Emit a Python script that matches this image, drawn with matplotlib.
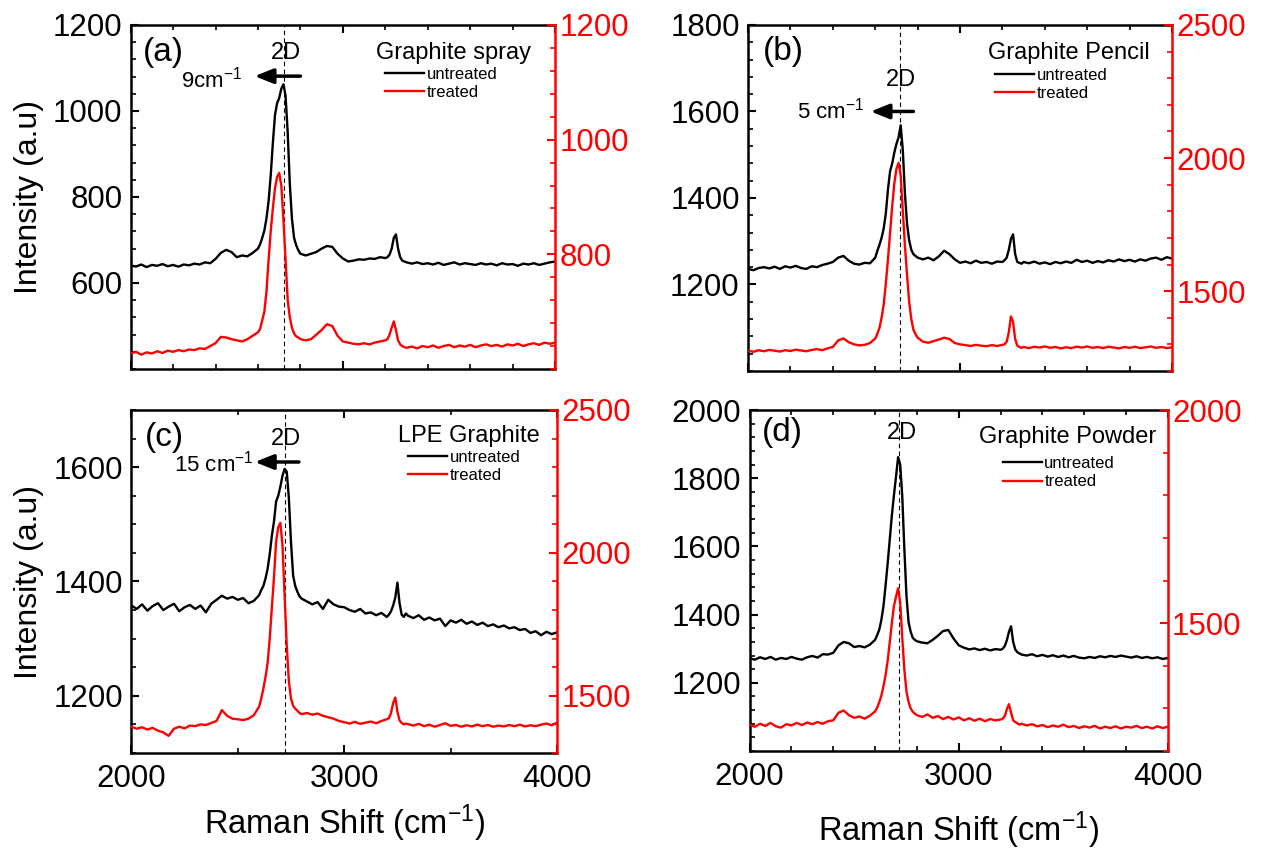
import matplotlib
matplotlib.use('Agg')
import matplotlib.pyplot as plt
from matplotlib.ticker import MultipleLocator

plt.rcParams['font.family'] = ['Liberation Sans', 'DejaVu Sans']
plt.rcParams['mathtext.fontset'] = 'custom'
plt.rcParams['mathtext.rm'] = 'Liberation Sans'
plt.rcParams['mathtext.default'] = 'regular'

# Raman shift sampling points (cm-1), shared by all spectra
shift = [2000, 2025, 2050, 2075, 2100, 2125, 2150, 2175, 2200, 2225, 2250, 2275,
         2300, 2325, 2350, 2375, 2400, 2425, 2450, 2475, 2500, 2525, 2550, 2575,
         2600, 2610, 2620, 2630, 2640, 2650, 2660, 2670, 2680, 2690, 2700, 2710,
         2720, 2730, 2740, 2750, 2760, 2770, 2780, 2790,
         2800, 2825, 2850, 2875, 2900, 2925, 2950, 2975, 3000, 3025, 3050, 3075,
         3100, 3125, 3150, 3175,
         3200, 3210, 3220, 3230, 3240, 3250, 3260, 3270, 3280, 3290,
         3300, 3325, 3350, 3375, 3400, 3425, 3450, 3475, 3500, 3525, 3550, 3575,
         3600, 3625, 3650, 3675, 3700, 3725, 3750, 3775, 3800, 3825, 3850, 3875,
         3900, 3925, 3950, 3975, 4000]

# (a) Graphite spray
spray_untreated = [641, 638, 643, 637, 642, 640, 644, 639, 642, 638, 643, 641, 645, 643, 648, 646, 656, 670, 677, 672, 660, 664, 662, 670,
                   680, 690, 705, 722, 750, 790, 850, 925, 990, 1018, 1030, 1052, 1062, 1035, 950, 830, 750, 705, 688, 676,
                   668, 664, 668, 672, 680, 686, 684, 668, 657, 650, 652, 655, 654, 657, 656, 660,
                   658, 660, 666, 680, 705, 713, 680, 660, 652, 650,
                   648, 645, 648, 644, 646, 643, 647, 642, 645, 648, 643, 646, 644, 642, 646, 643, 645, 641, 646, 643, 644, 640, 645, 643, 646, 642, 645, 648, 650]
spray_treated = [627, 630, 625, 629, 627, 631, 628, 632, 630, 633, 631, 634, 633, 636, 635, 640, 645, 656, 655, 652, 650, 648, 652, 658,
                 664, 670, 685, 700, 735, 790, 840, 880, 915, 935, 942, 920, 860, 790, 720, 690, 672, 662, 657, 655,
                 652, 650, 652, 660, 668, 678, 675, 658, 648, 646, 644, 643, 645, 643, 646, 648,
                 650, 652, 660, 672, 683, 668, 650, 643, 640, 638,
                 637, 639, 636, 640, 638, 641, 637, 640, 642, 638, 641, 639, 642, 638, 641, 643, 640, 642, 639, 643, 641, 644, 640, 643, 645, 642, 646, 644, 646]

# (b) Graphite pencil
pencil_untreated = [1236, 1233, 1238, 1240, 1237, 1241, 1236, 1242, 1239, 1243, 1238, 1236, 1242, 1240, 1245, 1248, 1252, 1262, 1266, 1255, 1248, 1246, 1250, 1249,
                    1262, 1278, 1292, 1308, 1330, 1365, 1420, 1462, 1480, 1505, 1525, 1540, 1568, 1510, 1410, 1340, 1302, 1280, 1270, 1266,
                    1262, 1258, 1262, 1256, 1265, 1278, 1270, 1258, 1250, 1253, 1249, 1255, 1250, 1252, 1248, 1253,
                    1252, 1256, 1262, 1280, 1305, 1316, 1270, 1252, 1250, 1248,
                    1252, 1249, 1253, 1248, 1251, 1247, 1252, 1249, 1253, 1250, 1257, 1252, 1255, 1250, 1254, 1251, 1256, 1253, 1258, 1254, 1257, 1253, 1258, 1255, 1260, 1262, 1257, 1263, 1260]
pencil_treated = [1276, 1272, 1278, 1274, 1279, 1276, 1273, 1278, 1275, 1280, 1277, 1274, 1279, 1282, 1278, 1285, 1290, 1315, 1322, 1308, 1300, 1296, 1298, 1305,
                  1322, 1340, 1362, 1400, 1450, 1530, 1620, 1720, 1820, 1905, 1960, 1982, 1935, 1800, 1670, 1560, 1460, 1395, 1355, 1338,
                  1325, 1310, 1306, 1312, 1318, 1325, 1320, 1305, 1300, 1297, 1294, 1298, 1295, 1293, 1297, 1294,
                  1298, 1300, 1310, 1345, 1405, 1385, 1320, 1295, 1290, 1287,
                  1290, 1286, 1291, 1288, 1292, 1287, 1290, 1285, 1289, 1286, 1291, 1288, 1292, 1287, 1290, 1286, 1291, 1288, 1285, 1290, 1287, 1291, 1286, 1289, 1292, 1287, 1290, 1286, 1289]

# (c) LPE graphite
lpe_untreated = [1358, 1352, 1360, 1349, 1357, 1362, 1350, 1356, 1361, 1348, 1355, 1359, 1352, 1358, 1346, 1361, 1368, 1375, 1370, 1373, 1368, 1371, 1362, 1366,
                 1376, 1385, 1392, 1405, 1422, 1448, 1480, 1505, 1540, 1550, 1566, 1585, 1597, 1592, 1545, 1468, 1410, 1392, 1382, 1374,
                 1370, 1365, 1360, 1364, 1352, 1368, 1360, 1356, 1355, 1350, 1347, 1352, 1344, 1346, 1341, 1345,
                 1338, 1342, 1348, 1358, 1372, 1398, 1362, 1342, 1338, 1344,
                 1340, 1336, 1341, 1333, 1337, 1332, 1335, 1322, 1332, 1328, 1333, 1326, 1330, 1324, 1328, 1322, 1325, 1320, 1323, 1318, 1320, 1315, 1317, 1310, 1313, 1306, 1312, 1308, 1311]
lpe_treated = [1392, 1385, 1390, 1382, 1388, 1378, 1372, 1360, 1385, 1392, 1386, 1396, 1394, 1400, 1398, 1405, 1412, 1450, 1430, 1420, 1418, 1415, 1420, 1432,
               1462, 1490, 1525, 1565, 1615, 1700, 1810, 1915, 2040, 2090, 2105, 2025, 1850, 1675, 1550, 1490, 1465, 1455, 1448, 1440,
               1436, 1440, 1434, 1438, 1430, 1425, 1420, 1412, 1408, 1403, 1409, 1402, 1406, 1410, 1404, 1412,
               1418, 1422, 1440, 1475, 1494, 1445, 1414, 1405, 1400, 1403,
               1401, 1396, 1402, 1394, 1399, 1392, 1398, 1404, 1395, 1398, 1392, 1397, 1393, 1399, 1394, 1398, 1392, 1396, 1393, 1398, 1394, 1399, 1393, 1397, 1394, 1399, 1403, 1397, 1406]

# (d) Graphite powder
powder_untreated = [1272, 1268, 1275, 1270, 1276, 1268, 1273, 1270, 1276, 1271, 1268, 1275, 1279, 1274, 1284, 1283, 1288, 1310, 1320, 1316, 1305, 1308, 1304, 1312,
                    1326, 1340, 1356, 1385, 1425, 1485, 1550, 1620, 1690, 1750, 1805, 1862, 1840, 1745, 1590, 1455, 1378, 1350, 1332, 1326,
                    1322, 1318, 1316, 1326, 1338, 1352, 1355, 1330, 1310, 1303, 1298, 1301, 1296, 1300, 1295, 1299,
                    1297, 1300, 1308, 1325, 1350, 1366, 1320, 1298, 1290, 1286,
                    1283, 1280, 1284, 1278, 1282, 1277, 1281, 1276, 1280, 1275, 1279, 1274, 1272, 1276, 1273, 1278, 1275, 1279, 1276, 1280, 1277, 1274, 1278, 1273, 1276, 1272, 1275, 1270, 1273]
powder_treated = [1262, 1257, 1264, 1259, 1266, 1258, 1255, 1263, 1260, 1266, 1261, 1267, 1263, 1268, 1264, 1270, 1272, 1290, 1295, 1284, 1278, 1281, 1276, 1283,
                  1293, 1302, 1315, 1330, 1352, 1378, 1412, 1455, 1500, 1540, 1562, 1582, 1548, 1465, 1390, 1340, 1315, 1300, 1292, 1288,
                  1284, 1280, 1286, 1278, 1282, 1275, 1280, 1274, 1279, 1272, 1277, 1271, 1276, 1270, 1275, 1272,
                  1274, 1276, 1282, 1298, 1310, 1290, 1272, 1268, 1265, 1262,
                  1264, 1260, 1263, 1258, 1261, 1256, 1260, 1257, 1262, 1256, 1259, 1254, 1258, 1255, 1259, 1253, 1257, 1254, 1258, 1253, 1257, 1255, 1259, 1254, 1257, 1253, 1258, 1254, 1257]

titles = ['Graphite spray', 'Graphite Pencil', 'LPE Graphite', 'Graphite Powder']
tags = ['(a)', '(b)', '(c)', '(d)']
shifts_text = ['9cm$^{-1}$', '5 cm$^{-1}$', '15 cm$^{-1}$', None]

panels = [
    dict(pos=[0.1023, 0.5669, 0.3324, 0.4038], black=spray_untreated, red=spray_treated,
         ylim=(400, 1200), ylim2=(600, 1200), yt=[600, 800, 1000, 1200], yt2=[800, 1000, 1200],
         ymin=40, ymin2=40, xmin=200, xlab=False, dash=2722, d2=(2734, 1135),
         arrow=((2584, 1081), (2800, 1081)), atext=(2526, 1074),
         title=(0.76, 0.919), leg=(0.60, 0.878), tag=(0.03, 0.919)),
    dict(pos=[0.5858, 0.5646, 0.3320, 0.4061], black=pencil_untreated, red=pencil_treated,
         ylim=(1000, 1800), ylim2=(1200, 2500), yt=[1200, 1400, 1600, 1800], yt2=[1500, 2000, 2500],
         ymin=40, ymin2=100, xmin=200, xlab=False, dash=2717, d2=(2723, 1673),
         arrow=((2578, 1600), (2780, 1600)), atext=(2549, 1602),
         title=(0.757, 0.919), leg=(0.583, 0.876), tag=(0.035, 0.922)),
    dict(pos=[0.1029, 0.1162, 0.3333, 0.4026], black=lpe_untreated, red=lpe_treated,
         ylim=(1100, 1700), ylim2=(1300, 2500), yt=[1200, 1400, 1600], yt2=[1500, 2000, 2500],
         ymin=50, ymin2=100, xmin=500, xlab=True, dash=2724, d2=(2724, 1649),
         arrow=((2580, 1609), (2787, 1609)), atext=(2575, 1606),
         title=(0.793, 0.924), leg=(0.65, 0.884), tag=(0.032, 0.921)),
    dict(pos=[0.5870, 0.1185, 0.3276, 0.4002], black=powder_untreated, red=powder_treated,
         ylim=(1000, 2000), ylim2=(1200, 2000), yt=[1200, 1400, 1600, 1800, 2000], yt2=[1500, 2000],
         ymin=40, ymin2=100, xmin=200, xlab=True, dash=2716, d2=(2727, 1932),
         arrow=None, atext=None,
         title=(0.76, 0.921), leg=(0.605, 0.865), tag=(0.03, 0.933)),
]

fig = plt.figure(figsize=(12.77, 8.52), dpi=100)

for i, p in enumerate(panels):
    ax = fig.add_axes(p['pos'])
    ax2 = ax.twinx()
    l1, = ax.plot(shift, p['black'], color='black', lw=1.7)
    l2, = ax2.plot(shift, p['red'], color='#ff0000', lw=1.7)

    ax.set_xlim(2000, 4000)
    ax.set_ylim(*p['ylim'])
    ax2.set_ylim(*p['ylim2'])
    ax.set_xticks([2000, 3000, 4000])
    ax.xaxis.set_minor_locator(MultipleLocator(p['xmin']))
    ax.set_yticks(p['yt'])
    ax.yaxis.set_minor_locator(MultipleLocator(p['ymin']))
    ax2.set_yticks(p['yt2'])
    ax2.yaxis.set_minor_locator(MultipleLocator(p['ymin2']))

    ax.tick_params(axis='both', which='both', direction='in', top=True, right=False,
                   labelsize=22.5, width=1.5)
    ax.tick_params(which='major', length=6)
    ax.tick_params(which='minor', length=3.5, width=1.2)
    ax.tick_params(axis='x', pad=8, labelbottom=p['xlab'])
    ax.tick_params(axis='y', pad=6)
    ax2.tick_params(axis='y', which='both', direction='in', colors='#ff0000',
                    labelsize=22.5, width=1.5, pad=3)
    ax2.tick_params(which='major', length=6)
    ax2.tick_params(which='minor', length=3.5, width=1.2)

    for s in ['left', 'bottom', 'top']:
        ax.spines[s].set_linewidth(1.8)
    ax.spines['right'].set_visible(False)
    ax2.spines['right'].set_color('#ff0000')
    ax2.spines['right'].set_linewidth(1.8)
    for s in ['left', 'bottom', 'top']:
        ax2.spines[s].set_visible(False)

    ax.axvline(p['dash'], color='black', lw=0.8, ls=(0, (4, 3)), zorder=1)
    ax.text(p['d2'][0], p['d2'][1], '2D', ha='center', va='center', fontsize=17)
    if p['arrow'] is not None:
        ax.annotate('', xy=p['arrow'][0], xytext=p['arrow'][1],
                    arrowprops=dict(arrowstyle='-|>,head_length=0.8,head_width=0.32',
                                    lw=2.5, color='black', shrinkA=0, shrinkB=0,
                                    mutation_scale=14))
        ax.text(p['atext'][0], p['atext'][1], shifts_text[i], ha='right', va='center',
                fontsize=16)

    ax.text(p['tag'][0], p['tag'][1], tags[i], transform=ax.transAxes,
            ha='left', va='center', fontsize=24)
    ax2.text(p['title'][0], p['title'][1], titles[i], transform=ax.transAxes,
             ha='center', va='center', fontsize=17)
    ax2.legend([l1, l2], ['untreated', 'treated'], loc='upper left',
               bbox_to_anchor=p['leg'], bbox_transform=ax.transAxes, frameon=False,
               fontsize=12, handlelength=2.35, handletextpad=0.15, labelspacing=0.2,
               borderpad=0, borderaxespad=0)

fig.text(0.0224, 0.769, 'Intensity (a.u)', rotation=90, ha='center', va='center', fontsize=23)
fig.text(0.0224, 0.317, 'Intensity (a.u)', rotation=90, ha='center', va='center', fontsize=23)
fig.text(0.270, 0.034, 'Raman Shift (cm$^{-1}$)', ha='center', va='center', fontsize=23.5)
fig.text(0.751, 0.026, 'Raman Shift (cm$^{-1}$)', ha='center', va='center', fontsize=23.5)

fig.savefig('out.png', dpi=100)
